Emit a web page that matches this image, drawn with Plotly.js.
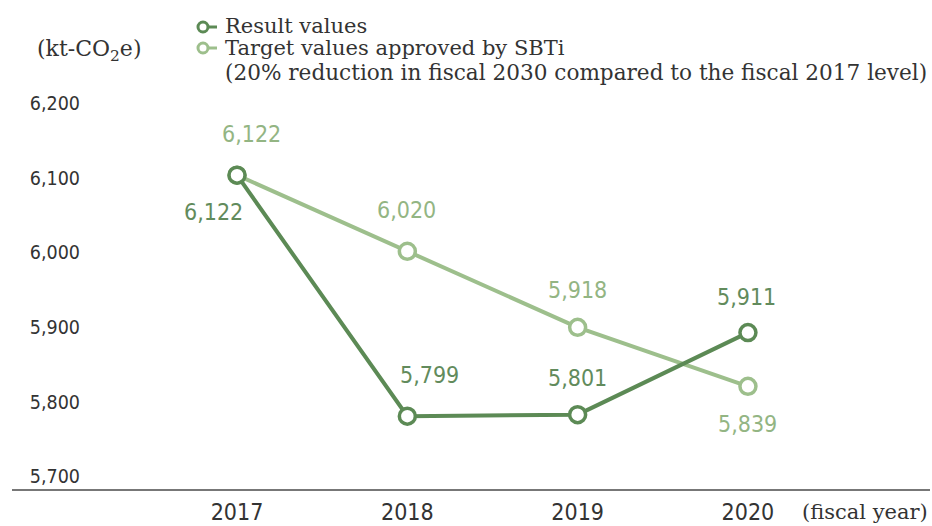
<!DOCTYPE html>
<html>
<head>
<meta charset="utf-8">
<script src="https://cdn.plot.ly/plotly-3.0.1.min.js"></script>
<style>html,body{margin:0;padding:0;background:#fff;}#chart{width:932px;height:526px;}</style>
</head>
<body>
<div id="chart"></div>
<script>
// ---- data ----
const years = ["2017", "2018", "2019", "2020"];
const resultValues = [6122, 5799, 5801, 5911];
const targetValues = [6122, 6020, 5918, 5839];
const yTickVals = [5700, 5800, 5900, 6000, 6100, 6200];
const yTickText = ["5,700", "5,800", "5,900", "6,000", "6,100", "6,200"];
const resultName = "Result values";
const targetName = "Target values approved by SBTi";
const targetNote = "(20% reduction in fiscal 2030 compared to the fiscal 2017 level)";

// ---- label offsets (px, screen direction: +x right, +y down) ----
const resultOffsets = [[-24, 37], [22, -41], [0, -37], [-1, -36]];
const targetOffsets = [[14, -41], [-1, -41], [0, -37], [0, 38]];

const darkGreen = "#5c8a55";
const lightGreen = "#9dbf8c";
const darkLabel = "#628b5c";
const lightLabel = "#93b583";
const numFont = "'DejaVu Sans Condensed', 'DejaVu Sans', sans-serif";
const serifFont = "'DejaVu Serif', 'Liberation Serif', serif";

const fmt = v => v.toLocaleString("en-US");

const traces = [
  {
    x: years, y: targetValues, type: "scatter", mode: "lines+markers", name: targetName,
    line: {color: lightGreen, width: 4},
    marker: {symbol: "circle", size: 16, color: "#ffffff", line: {color: lightGreen, width: 3.5}},
    hoverinfo: "skip", showlegend: false
  },
  {
    x: years, y: resultValues, type: "scatter", mode: "lines+markers", name: resultName,
    line: {color: darkGreen, width: 4},
    marker: {symbol: "circle", size: 16, color: "#ffffff", line: {color: darkGreen, width: 3.5}},
    hoverinfo: "skip", showlegend: false
  }
];

const annotations = [];
years.forEach((yr, i) => {
  annotations.push({x: i, y: resultValues[i], xref: "x", yref: "y", text: fmt(resultValues[i]),
    showarrow: false, xshift: resultOffsets[i][0], yshift: -resultOffsets[i][1],
    font: {family: numFont, size: 23, stretch: "condensed", color: darkLabel}});
  annotations.push({x: i, y: targetValues[i], xref: "x", yref: "y", text: fmt(targetValues[i]),
    showarrow: false, xshift: targetOffsets[i][0], yshift: -targetOffsets[i][1],
    font: {family: numFont, size: 23, stretch: "condensed", color: lightLabel}});
});

// pixel helpers for paper coords (plot area x 88..930, y 117..490)
const L = 88, R = 930, T = 117, B = 490;
const px = v => (v - L) / (R - L);
const py = v => (B - v) / (B - T);

annotations.push(
  {x: px(35), y: py(50), xref: "paper", yref: "paper", xanchor: "left", yanchor: "middle", showarrow: false,
   text: "(kt-CO<sub>2</sub>e)", font: {family: serifFont, size: 22, color: "#333"}},
  {x: px(223), y: py(26), xref: "paper", yref: "paper", xanchor: "left", yanchor: "middle", showarrow: false,
   text: resultName, font: {family: serifFont, size: 21, color: "#333"}},
  {x: px(223), y: py(48), xref: "paper", yref: "paper", xanchor: "left", yanchor: "middle", showarrow: false,
   text: targetName, font: {family: serifFont, size: 21, color: "#333"}},
  {x: px(223), y: py(73), xref: "paper", yref: "paper", xanchor: "left", yanchor: "middle", showarrow: false,
   text: targetNote, font: {family: serifFont, size: 21.6, color: "#333"}},
  {x: 1, y: py(512), xref: "paper", yref: "paper", xanchor: "right", yanchor: "middle", showarrow: false,
   text: "(fiscal year)", font: {family: serifFont, size: 21, color: "#333"}}
);

const shapes = [
  {type: "line", xref: "paper", yref: "paper", x0: px(12), x1: 1, y0: 0, y1: 0, line: {color: "#777", width: 2}},
  {type: "line", xref: "paper", yref: "paper", x0: px(203), x1: px(217), y0: py(27), y1: py(27), line: {color: darkGreen, width: 3}},
  {type: "circle", xref: "paper", yref: "paper", xsizemode: "pixel", ysizemode: "pixel",
   xanchor: px(203), yanchor: py(27), x0: -5, x1: 5, y0: -5, y1: 5, fillcolor: "#fff", line: {color: darkGreen, width: 3}},
  {type: "line", xref: "paper", yref: "paper", x0: px(203), x1: px(217), y0: py(48), y1: py(48), line: {color: lightGreen, width: 3}},
  {type: "circle", xref: "paper", yref: "paper", xsizemode: "pixel", ysizemode: "pixel",
   xanchor: px(203), yanchor: py(48), x0: -5, x1: 5, y0: -5, y1: 5, fillcolor: "#fff", line: {color: lightGreen, width: 3}}
];

const layout = {
  width: 932, height: 526,
  margin: {l: L, r: 932 - R, t: T, b: 526 - B, pad: 0},
  paper_bgcolor: "#fff", plot_bgcolor: "#fff",
  showlegend: false,
  xaxis: {type: "category", range: [-0.875, 4.069], showgrid: false, zeroline: false, showline: false,
          ticks: "", ticklabelstandoff: 6,
          tickfont: {family: numFont, size: 23, stretch: "condensed", color: "#333"}, fixedrange: true},
  yaxis: {range: [5700, 6200], tickvals: yTickVals, ticktext: yTickText, showgrid: false, zeroline: false,
          showline: false, ticks: "", ticklabelposition: "outside top", ticklabelstandoff: 7,
          tickfont: {family: numFont, size: 19.5, stretch: "condensed", color: "#333"}, fixedrange: true},
  annotations: annotations,
  shapes: shapes
};

Plotly.newPlot("chart", traces, layout, {displayModeBar: false, staticPlot: true});
</script>
</body>
</html>
